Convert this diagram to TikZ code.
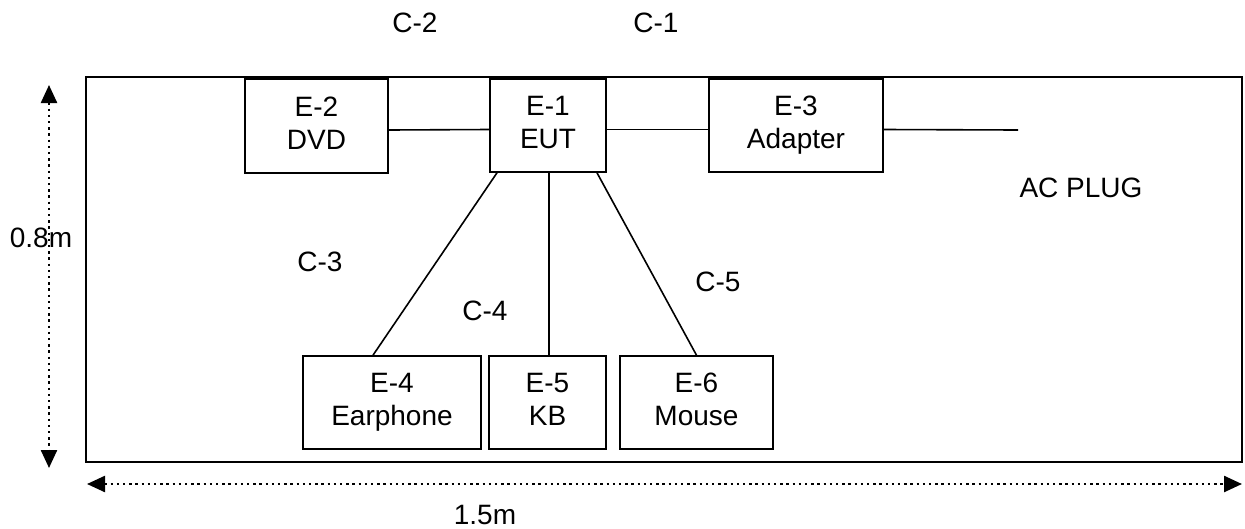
\documentclass[tikz,border=0pt]{standalone}
\usepackage{fontspec}
\setmainfont{Liberation Sans}
\usetikzlibrary{arrows.meta}
\begin{document}
\begin{tikzpicture}[x=1pt,y=-1pt,
  every node/.style={font=\fontsize{28}{33}\selectfont},
  unit/.style={draw, line width=1.6pt, align=center, inner sep=0pt, minimum height=93pt},
  label/.style={inner sep=0pt},
  cable/.style={line width=1.6pt},
  dim/.style={line width=2.4pt, dash pattern=on 2.4pt off 3.8pt, {Triangle[length=18pt,width=16pt]}-{Triangle[length=18pt,width=16pt]}}
]
\useasboundingbox (0,0) rectangle (1245,528);
% table area
\node[draw, line width=2.2pt, inner sep=0pt, minimum width=1156pt, minimum height=385pt] (area) at (664,269.5) {};
% units
\node[unit, minimum width=143pt, minimum height=94pt] (E2) at (316.5,126) {E-2\\DVD\vphantom{p}};
\node[unit, minimum width=116pt] (E1) at (548,125.5) {E-1\\EUT\vphantom{p}};
\node[unit, minimum width=174pt] (E3) at (796,125.5) {E-3\\Adapter};
\node[unit, minimum width=178pt] (E4) at (392,402.5) {E-4\\Earphone};
\node[unit, minimum width=117pt] (E5) at (547.5,402.5) {E-5\\KB\vphantom{p}};
\node[unit, minimum width=153pt] (E6) at (696.5,402.5) {E-6\\Mouse\vphantom{p}};
\coordinate (ac) at (1018,130);
% cables
\draw[cable] ([yshift=-4pt]E2.east) -- ([yshift=-4pt]E1.west);
\draw[cable] ([yshift=-4pt]E1.east) -- ([yshift=-4pt]E3.west);
\draw[cable] ([yshift=-4pt]E3.east) -- (ac);
\draw[cable] ([xshift=-51pt]E1.south) -- ([xshift=-19pt]E4.north);
\draw[cable] ([xshift=1pt]E1.south) -- ([xshift=1pt]E1.south |- E5.north);
\draw[cable] ([xshift=49pt]E1.south) -- (E6.north);
% labels
\node[label] (C2) at (415,23) {C-2};
\node[label] (C1) at (656,23) {C-1};
\node[label] (C3) at (320,262) {C-3};
\node[label] (C4) at (485,311) {C-4};
\node[label] (C5) at (718,282) {C-5};
\node[label] (acl) at (1081,188) {AC PLUG};
% dimensions
\coordinate (vt) at (49,85);
\coordinate (vb) at (49,468);
\coordinate (hl) at (87,484);
\coordinate (hr) at (1242,484);
\draw[dim] (vt) -- (vb);
\draw[dim] (hl) -- (hr);
\node[label] (w) at (41,238) {0.8m};
\node[label] (l) at (485,515) {1.5m};
\end{tikzpicture}
\end{document}
